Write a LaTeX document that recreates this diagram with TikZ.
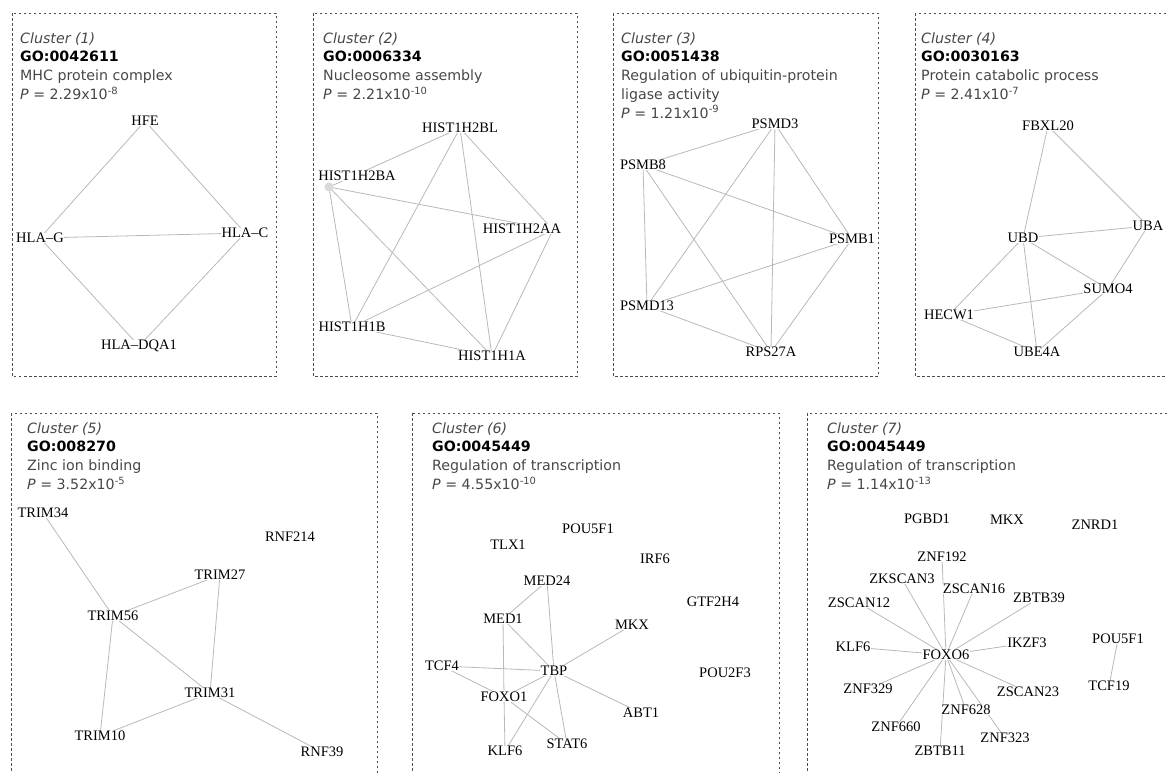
\documentclass[tikz,border=0pt]{standalone}
\usepackage{fontspec}
\setmainfont{Liberation Serif}
\newfontfamily\headfont{DejaVu Sans}
\usetikzlibrary{backgrounds}

\begin{document}
\begin{tikzpicture}[
    x=1pt, y=-1pt,
    % dashed frame round each cluster
    frame/.style={draw=black!70, line width=0.9pt, dash pattern=on 2.5pt off 2.5pt},
    % cluster caption (sans, several lines), placed by its last baseline
    head/.style={font=\headfont\fontsize{14.2}{18.8}\selectfont, align=left,
        anchor=base west, inner sep=0pt, text=black!72},
    gene/.style={font=\fontsize{14.5}{16}\selectfont, fill=white, inner sep=0.5pt},
    link/.style={draw=black!28, line width=0.8pt},
    dot/.style={circle, fill=black!15, minimum size=9pt, inner sep=0pt}
]
\clip (0,0) rectangle (1167,772);

% --- Frames ---
\draw[frame] (12,13) rectangle (276,376);
\draw[frame] (313,13) rectangle (577,376);
\draw[frame] (613,13) rectangle (878,376);
\draw[frame] (915,13) rectangle (1190,376);
\draw[frame] (11,413) rectangle (377,800);
\draw[frame] (412,413) rectangle (779,800);
\draw[frame] (807,413) rectangle (1190,800);

% --- Captions ---
\node[head] (head1) at (20,99.4) {\textit{Cluster (1)}\\\textcolor{black}{\textbf{GO:0042611}}\\MHC protein complex\\\textit{P} = 2.29x10\textsuperscript{-8}};
\node[head] (head2) at (323,99.4) {\textit{Cluster (2)}\\\textcolor{black}{\textbf{GO:0006334}}\\Nucleosome assembly\\\textit{P} = 2.21x10\textsuperscript{-10}};
\node[head] (head3) at (621,118.2) {\textit{Cluster (3)}\\\textcolor{black}{\textbf{GO:0051438}}\\Regulation of ubiquitin-protein\\ligase activity\\\textit{P} = 1.21x10\textsuperscript{-9}};
\node[head] (head4) at (921,99.4) {\textit{Cluster (4)}\\\textcolor{black}{\textbf{GO:0030163}}\\Protein catabolic process\\\textit{P} = 2.41x10\textsuperscript{-7}};
\node[head] (head5) at (27,489.4) {\textit{Cluster (5)}\\\textcolor{black}{\textbf{GO:008270}}\\Zinc ion binding\\\textit{P} = 3.52x10\textsuperscript{-5}};
\node[head] (head6) at (432,489.4) {\textit{Cluster (6)}\\\textcolor{black}{\textbf{GO:0045449}}\\Regulation of transcription\\\textit{P} = 4.55x10\textsuperscript{-10}};
\node[head] (head7) at (827,489.4) {\textit{Cluster (7)}\\\textcolor{black}{\textbf{GO:0045449}}\\Regulation of transcription\\\textit{P} = 1.14x10\textsuperscript{-13}};

% --- Cluster 1 ---
\node[gene] (hfe) at (145,121) {HFE};
\node[gene] (hlag) at (40,238) {HLA–G};
\node[gene] (hlac) at (245,233) {HLA–C};
\node[gene] (hladqa) at (139,346) {HLA–DQA1};

% --- Cluster 2 ---
\node[dot] (h2ba) at (329,187) {};
\coordinate (h2aa) at (553,230);
\node[gene] (h2bl) at (460,128) {HIST1H2BL};
\node[gene] (h2batxt) at (357,176) {HIST1H2BA};
\node[gene] (h2aatxt) at (522,229) {HIST1H2AA};
\node[gene] (h1b) at (352,327) {HIST1H1B};
\node[gene] (h1a) at (492,356) {HIST1H1A};

% --- Cluster 3 ---
\node[gene] (psmd3) at (775,124) {PSMD3};
\node[gene] (psmb8) at (643,165) {PSMB8};
\node[gene] (psmb1) at (852,239) {PSMB1};
\node[gene] (psmd13) at (647,306) {PSMD13};
\node[gene] (rps27a) at (771,352) {RPS27A};

% --- Cluster 4 ---
\node[gene] (fbxl20) at (1048,126) {FBXL20};
\node[gene] (uba) at (1148,226) {UBA};
\node[gene] (ubd) at (1023,238) {UBD};
\node[gene] (sumo4) at (1108,289) {SUMO4};
\node[gene] (hecw1) at (949,315) {HECW1};
\node[gene] (ube4a) at (1037,352) {UBE4A};

% --- Cluster 5 ---
\node[gene] (trim34) at (43,513) {TRIM34};
\node[gene] (rnf214) at (290,537) {RNF214};
\node[gene] (trim27) at (220,575) {TRIM27};
\node[gene] (trim56) at (113,616) {TRIM56};
\node[gene] (trim31) at (210,693) {TRIM31};
\node[gene] (trim10) at (100,736) {TRIM10};
\node[gene] (rnf39) at (322,752) {RNF39};

% --- Cluster 6 ---
\node[gene] (pou5f1a) at (588,529) {POU5F1};
\node[gene] (tlx1) at (508,545) {TLX1};
\node[gene] (irf6) at (655,559) {IRF6};
\node[gene] (med24) at (547,581) {MED24};
\node[gene] (gtf2h4) at (713,602) {GTF2H4};
\node[gene] (med1) at (503,619) {MED1};
\node[gene] (mkxa) at (632,625) {MKX};
\node[gene] (tcf4) at (442,666) {TCF4};
\node[gene] (tbp) at (554,671) {TBP};
\node[gene] (pou2f3) at (725,673) {POU2F3};
\node[gene] (foxo1) at (504,697) {FOXO1};
\node[gene] (abt1) at (641,713) {ABT1};
\node[gene] (klf6a) at (505,751) {KLF6};
\node[gene] (stat6) at (567,744) {STAT6};

% --- Cluster 7 ---
\node[gene] (pgbd1) at (927,519) {PGBD1};
\node[gene] (mkxb) at (1007,520) {MKX};
\node[gene] (znrd1) at (1095,525) {ZNRD1};
\node[gene] (znf192) at (942,557) {ZNF192};
\node[gene] (zkscan3) at (902,579) {ZKSCAN3};
\node[gene] (zscan16) at (974,589) {ZSCAN16};
\node[gene] (zbtb39) at (1039,598) {ZBTB39};
\node[gene] (zscan12) at (859,603) {ZSCAN12};
\node[gene] (klf6b) at (853,647) {KLF6};
\node[gene] (ikzf3) at (1027,643) {IKZF3};
\node[gene] (pou5f1b) at (1118,639) {POU5F1};
\node[gene] (foxo6) at (946,655) {FOXO6};
\node[gene] (znf329) at (868,689) {ZNF329};
\node[gene] (zscan23) at (1028,692) {ZSCAN23};
\node[gene] (tcf19) at (1109,686) {TCF19};
\node[gene] (znf628) at (966,710) {ZNF628};
\node[gene] (znf660) at (896,727) {ZNF660};
\node[gene] (znf323) at (1005,738) {ZNF323};
\node[gene] (zbtb11) at (940,751) {ZBTB11};

% --- Interactions (behind the labels) ---
\begin{pgfonlayer}{background}
\foreach \a/\b in {hfe/hlag, hfe/hlac, hlag/hlac, hlag/hladqa, hlac/hladqa,
    h2bl/h2ba, h2bl/h2aa, h2bl/h1b, h2bl/h1a, h2ba/h2aa, h2ba/h1b, h2ba/h1a,
    h2aa/h1b, h2aa/h1a, h1b/h1a,
    psmd3/psmb8, psmd3/psmb1, psmd3/psmd13, psmd3/rps27a, psmb8/psmb1,
    psmb8/psmd13, psmb8/rps27a, psmb1/psmd13, psmb1/rps27a, psmd13/rps27a,
    fbxl20/ubd, fbxl20/uba, uba/ubd, uba/sumo4, ubd/hecw1, ubd/ube4a,
    ubd/sumo4, hecw1/sumo4, hecw1/ube4a, sumo4/ube4a,
    trim34/trim56, trim56/trim27, trim56/trim31, trim56/trim10,
    trim27/trim31, trim31/trim10, trim31/rnf39,
    med24/med1, med24/tbp, med1/tbp, med1/foxo1, mkxa/tbp, tcf4/tbp,
    tcf4/foxo1, foxo1/stat6, foxo1/tbp, foxo1/klf6a, tbp/klf6a, tbp/stat6,
    tbp/abt1,
    foxo6/znf192, foxo6/zkscan3, foxo6/zscan16, foxo6/zbtb39, foxo6/zscan12,
    foxo6/klf6b, foxo6/ikzf3, foxo6/znf329, foxo6/zscan23, foxo6/znf628,
    foxo6/znf660, foxo6/znf323, foxo6/zbtb11, pou5f1b/tcf19}
    \draw[link] (\a.center) -- (\b.center);
\end{pgfonlayer}

\end{tikzpicture}
\end{document}
